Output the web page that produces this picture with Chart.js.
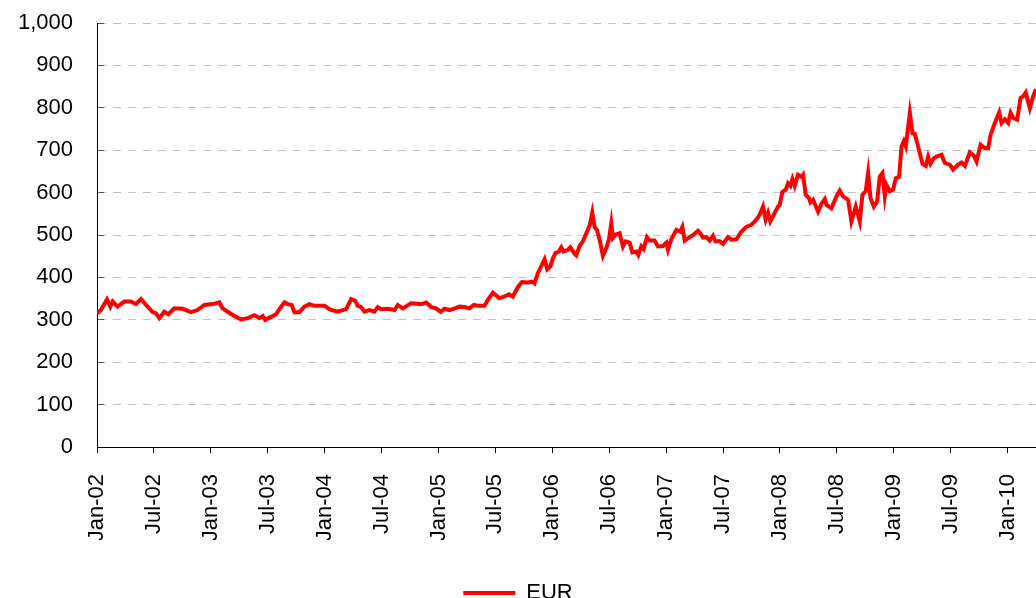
<!DOCTYPE html>
<html>
<head>
<meta charset="utf-8">
<script src="https://cdn.jsdelivr.net/npm/chart.js@4.4.0/dist/chart.umd.min.js"></script>
<style>
  html, body { margin: 0; padding: 0; background: #fff; overflow: hidden; }
  #wrap { position: relative; width: 1036px; height: 614px; }
</style>
</head>
<body>
<div id="wrap"><canvas id="goldChart"></canvas></div>
<script>
// Gold price in EUR (x = months since Jan 2002)
const months = [
  0, 0.42, 1.05, 1.4, 1.65, 2.17, 2.88, 3.58, 4.1, 4.64, 5.17, 5.87, 6.22, 6.57, 7.1, 7.52, 8.15, 9.03, 9.92, 10.6,
  11.32, 12.2, 12.9, 13.25, 13.78, 14.48, 15.19, 15.89, 16.6, 17.12, 17.47, 17.72, 18.36, 18.88, 19.23, 19.76, 20.11, 20.53, 20.81, 21.34,
  21.87, 22.4, 22.92, 23.98, 24.6, 25.38, 26.27, 26.8, 27.22, 27.5, 27.85, 28.2, 28.73, 29.25, 29.6, 29.96, 30.66, 31.36, 31.71, 32.24,
  33.12, 34.18, 34.71, 35.24, 35.76, 36.22, 36.64, 37.17, 37.87, 38.22, 38.75, 39.28, 39.73, 40.15, 40.86, 41.21, 41.74, 42.44, 42.97, 43.42,
  43.85, 44.37, 44.8, 45.43, 45.85, 46.13, 46.48, 47.19, 47.47, 47.8, 48.07, 48.35, 48.7, 48.95, 49.19, 49.65, 49.9, 50.35, 50.53, 50.88,
  51.23, 51.59, 51.94, 52.22, 52.46, 52.71, 52.99, 53.34, 53.7, 53.97, 54.22, 54.39, 54.68, 55.1, 55.45, 55.73, 56.16, 56.44, 56.86, 57.07,
  57.39, 57.63, 57.98, 58.26, 58.79, 59.14, 59.67, 60.03, 60.2, 60.55, 61.08, 61.5, 61.72, 61.96, 62.49, 62.91, 63.36, 63.61, 63.89, 64.25,
  64.6, 64.94, 65.2, 65.65, 66.0, 66.53, 66.88, 67.41, 67.94, 68.47, 68.99, 69.52, 69.87, 70.22, 70.5, 70.75, 71.0, 71.45, 71.8, 71.98,
  72.25, 72.61, 72.86, 73.11, 73.32, 73.56, 73.91, 74.27, 74.44, 74.72, 75.07, 75.22, 75.5, 76.02, 76.38, 76.73, 76.91, 77.43, 77.96, 78.31,
  78.66, 79.19, 79.54, 80.0, 80.42, 80.7, 81.05, 81.3, 81.55, 81.9, 82.25, 82.53, 82.81, 83.06, 83.24, 83.58, 83.93, 84.22, 84.57, 84.82,
  85.06, 85.27, 85.7, 85.98, 86.22, 86.57, 87.03, 87.38, 87.63, 87.88, 88.23, 88.51, 89.04, 89.39, 89.91, 90.26, 90.79, 91.15, 91.5, 92.02,
  92.45, 92.73, 93.15, 93.61, 93.96, 94.21, 94.66, 95.12, 95.37, 95.72, 96.07, 96.32, 96.59, 97.02, 97.37, 97.64, 97.92, 98.35, 98.7, 98.98
];
const eurValues = [
  315, 323, 348, 331, 343, 331, 343, 343, 337, 349, 335, 318, 315, 304, 319, 313, 327, 326, 318, 323,
  335, 337, 341, 327, 319, 309, 301, 304, 311, 304, 309, 300, 307, 313, 325, 341, 337, 335, 318, 318,
  331, 337, 333, 333, 324, 319, 325, 349, 345, 333, 330, 319, 323, 319, 330, 325, 326, 323, 335, 327,
  339, 337, 341, 330, 327, 319, 326, 323, 328, 331, 330, 327, 335, 333, 333, 347, 364, 351, 355, 360,
  355, 377, 389, 388, 390, 386, 410, 443, 419, 426, 445, 458, 461, 471, 461, 465, 471, 456, 452, 474,
  485, 504, 522, 553, 519, 512, 489, 451, 469, 489, 528, 493, 501, 504, 473, 485, 482, 459, 461, 453,
  473, 467, 495, 487, 487, 473, 474, 482, 465, 490, 512, 508, 519, 487, 495, 501, 510, 504, 494, 495,
  487, 498, 485, 485, 479, 495, 489, 490, 508, 519, 524, 536, 548, 567, 536, 552, 532, 552, 567, 571,
  601, 607, 622, 616, 632, 616, 642, 637, 642, 595, 587, 577, 583, 555, 574, 585, 571, 563, 591, 605,
  591, 583, 532, 567, 532, 595, 603, 646, 587, 567, 579, 638, 646, 591, 618, 603, 607, 634, 637, 709,
  721, 709, 788, 740, 739, 709, 668, 663, 685, 668, 681, 685, 689, 670, 666, 654, 666, 671, 663, 695,
  687, 673, 713, 705, 705, 736, 764, 789, 764, 773, 764, 788, 776, 772, 823, 827, 836, 799, 827, 844
];
const MONTH_NAMES = ['Jan', 'Feb', 'Mar', 'Apr', 'May', 'Jun', 'Jul', 'Aug', 'Sep', 'Oct', 'Nov', 'Dec'];
const START_YEAR = 2002;

const FONT = '"Liberation Sans", Arial, sans-serif';

function monthLabel(v) {
    const y = START_YEAR + Math.floor(v / 12);
    const m = Math.round(v) % 12;
    return MONTH_NAMES[m] + '-' + String(y).slice(2);
}

const ctx = document.getElementById('goldChart').getContext('2d');
new Chart(ctx, {
    type: 'line',
    data: {
        datasets: [{
            label: 'EUR',
            data: months.map((m, i) => ({ x: m, y: eurValues[i] })),
            borderColor: '#ff0000',
            backgroundColor: '#ff0000',
            borderWidth: 4,
            pointRadius: 0,
            tension: 0,
            fill: false
        }]
    },
    options: {
        responsive: true,
        maintainAspectRatio: false,
        animation: false,
        layout: { padding: { top: 23, left: 0, right: 0, bottom: 0 } },
        plugins: {
            legend: {
                position: 'bottom',
                labels: {
                    usePointStyle: true,
                    pointStyle: 'line',
                    pointStyleWidth: 52,
                    padding: 42,
                    color: '#000',
                    font: { family: FONT, size: 22 }
                }
            },
            tooltip: { enabled: false }
        },
        scales: {
            x: {
                type: 'linear',
                min: 0,
                max: 99,
                border: { color: '#000', width: 1 },
                grid: { drawOnChartArea: false, tickLength: 6, tickColor: '#000' },
                ticks: {
                    stepSize: 6,
                    includeBounds: false,
                    autoSkip: false,
                    minRotation: 90,
                    maxRotation: 90,
                    padding: 21,
                    color: '#000',
                    font: { family: FONT, size: 22 },
                    callback: v => monthLabel(v)
                },
                // keep the plot running to the right edge, like the original
                afterFit: scale => {
                    scale.height = 93;
                    scale.paddingLeft = 0;
                    scale.paddingRight = 0;
                }
            },
            y: {
                min: 0,
                max: 1000,
                border: { color: '#000', width: 1, dash: [8, 7] },
                grid: { color: '#c4c4c4', lineWidth: 1, tickLength: -7, tickColor: '#555', tickBorderDash: [] },
                ticks: {
                    stepSize: 100,
                    padding: 31,
                    color: '#000',
                    font: { family: FONT, size: 22 },
                    callback: v => v.toLocaleString('en-US')
                },
                afterFit: scale => {
                    scale.width = 97;
                    scale.paddingTop = 0;
                    scale.paddingBottom = 0;
                }
            }
        }
    }
});
</script>
</body>
</html>
